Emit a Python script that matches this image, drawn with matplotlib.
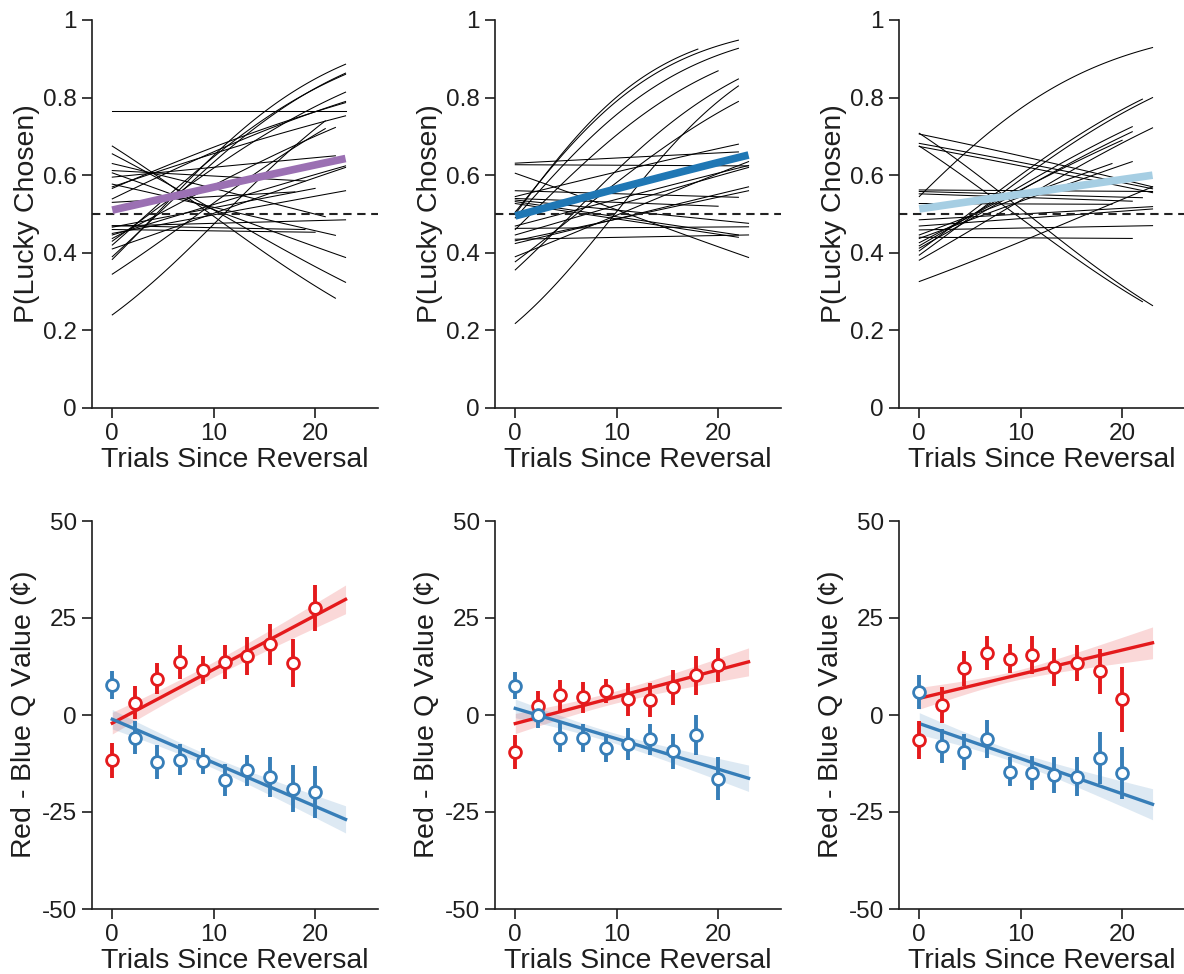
import numpy as np
import matplotlib
matplotlib.use("Agg")
import matplotlib.pyplot as plt

plt.rcParams['font.family'] = ['Liberation Sans', 'DejaVu Sans']
plt.rcParams['mathtext.fontset'] = 'custom'
plt.rcParams['mathtext.rm'] = 'Liberation Sans'
plt.rcParams['mathtext.it'] = 'Liberation Sans:italic'

# ---- per-subject logistic fits: (P at trial 0, P at last trial, last trial)
subj_start_1 = [0.765, 0.24, 0.345, 0.383, 0.39, 0.42, 0.43, 0.437, 0.446, 0.45, 0.466, 0.469, 0.46,
                0.539, 0.566, 0.57, 0.577, 0.595, 0.606, 0.612, 0.63, 0.655, 0.675, 0.53, 0.47, 0.41]
subj_end_1 = [0.765, 0.74, 0.72, 0.886, 0.863, 0.86, 0.814, 0.723, 0.624, 0.56, 0.566, 0.485, 0.453,
              0.79, 0.787, 0.753, 0.445, 0.65, 0.388, 0.585, 0.493, 0.324, 0.283, 0.557, 0.46, 0.62]
subj_last_1 = [23, 21, 21, 23, 23, 23, 23, 22, 23, 23, 20, 23, 20,
               23, 23, 23, 22, 22, 23, 19, 21, 23, 22, 18, 19, 23]

subj_start_2 = [0.50, 0.505, 0.49, 0.46, 0.356, 0.218, 0.377, 0.631, 0.627, 0.545, 0.39, 0.424,
                0.431, 0.56, 0.605, 0.54, 0.536, 0.532, 0.463, 0.435, 0.469, 0.527, 0.446]
subj_end_2 = [0.925, 0.948, 0.927, 0.869, 0.848, 0.83, 0.79, 0.66, 0.624, 0.68, 0.635, 0.57,
              0.56, 0.543, 0.388, 0.52, 0.476, 0.446, 0.467, 0.446, 0.625, 0.44, 0.62]
subj_last_2 = [18, 22, 22, 20, 22, 22, 22, 22, 23, 22, 23, 23,
               23, 22, 23, 20, 23, 22, 23, 23, 23, 22, 23]

subj_start_3 = [0.545, 0.405, 0.394, 0.418, 0.412, 0.381, 0.426, 0.437, 0.446, 0.708, 0.675, 0.706,
                0.682, 0.562, 0.558, 0.552, 0.527, 0.485, 0.469, 0.459, 0.44, 0.326, 0.674]
subj_end_3 = [0.929, 0.796, 0.80, 0.725, 0.712, 0.722, 0.69, 0.635, 0.63, 0.264, 0.274, 0.57,
              0.565, 0.558, 0.542, 0.533, 0.525, 0.519, 0.513, 0.47, 0.437, 0.57, 0.555]
subj_last_3 = [23, 22, 23, 21, 21, 23, 20, 21, 19, 23, 22, 23,
               23, 23, 22, 21, 19, 23, 23, 23, 21, 23, 23]

# group-level fit (start, end at trial 23)
group_start = [0.51, 0.495, 0.513]
group_end = [0.643, 0.652, 0.60]
group_colors = ['#9b70b3', '#1f77b4', '#a6cee3']

# ---- binned Q-value differences, trials since reversal
bin_x = [0, 2.2, 4.4, 6.7, 8.9, 11.1, 13.3, 15.6, 17.8, 20]

red_mean_1 = [-11.7, 3.2, 9.4, 13.7, 11.6, 13.7, 15.2, 18.2, 13.4, 27.6]
red_err_1 = [4.6, 4.3, 3.9, 4.4, 3.6, 4.4, 4.9, 5.2, 6.2, 6.0]
blue_mean_1 = [7.7, -5.8, -12.2, -11.5, -11.9, -16.8, -14.3, -16.0, -19.0, -19.9]
blue_err_1 = [3.7, 4.2, 4.4, 4.0, 3.4, 4.2, 4.1, 5.2, 6.0, 6.7]

red_mean_2 = [-9.5, 2.3, 5.1, 4.6, 6.2, 4.0, 3.8, 7.1, 10.2, 12.9]
red_err_2 = [4.3, 4.0, 4.0, 4.0, 3.1, 4.3, 4.4, 4.6, 5.1, 4.4]
blue_mean_2 = [7.6, 0.0, -5.8, -5.9, -8.5, -7.5, -6.2, -9.4, -5.2, -16.4]
blue_err_2 = [3.5, 3.4, 3.7, 3.7, 3.7, 4.1, 4.0, 4.4, 5.2, 5.6]

red_mean_3 = [-6.4, 2.6, 12.0, 16.0, 14.5, 15.5, 12.4, 13.4, 11.3, 4.1]
red_err_3 = [4.9, 4.6, 4.6, 4.4, 3.7, 4.9, 4.9, 4.6, 5.8, 8.4]
blue_mean_3 = [5.9, -8.0, -9.5, -6.3, -14.6, -14.9, -15.5, -15.9, -11.2, -14.9]
blue_err_3 = [4.3, 4.4, 4.7, 4.9, 3.7, 4.4, 4.7, 5.1, 6.7, 6.7]

# linear fits: value at trial 0 / trial 23, CI half-width at trial 0 / trial 23
red_fit = [(-2.1, 29.8, 2.8, 3.7), (-2.2, 13.7, 2.6, 3.6), (4.3, 18.6, 2.8, 4.1)]
blue_fit = [(-1.1, -26.9, 2.5, 3.5), (1.7, -16.3, 2.4, 3.4), (-2.2, -23.0, 2.8, 4.0)]

RED = '#e41a1c'
BLUE = '#377eb8'
TXT = '#1e1e1e'


def logit(p):
    p = np.asarray(p, dtype=float)
    return np.log(p / (1 - p))


def logistic_curve(p0, p1, x_last, n=120):
    b0 = logit(p0)
    b1 = (logit(p1) - b0) / x_last
    x = np.linspace(0, x_last, n)
    return x, 1 / (1 + np.exp(-(b0 + b1 * x)))


def style_axis(ax):
    for s in ['top', 'right']:
        ax.spines[s].set_visible(False)
    for s in ['left', 'bottom']:
        ax.spines[s].set_linewidth(1.2)
        ax.spines[s].set_color(TXT)
    ax.tick_params(length=7, width=1.2, labelsize=17.5, colors=TXT, pad=4)
    ax.set_xlim(-2, 26.2)
    ax.set_xticks([0, 10, 20])
    ax.set_xlabel('Trials Since Reversal', fontsize=20.5, color=TXT, labelpad=1)


fig = plt.figure(figsize=(11.84, 9.74), dpi=100)
W, H = 1184.0, 974.0
col_left = [92, 495, 899]
aw, ah = 286, 388

subjects = [(subj_start_1, subj_end_1, subj_last_1),
            (subj_start_2, subj_end_2, subj_last_2),
            (subj_start_3, subj_end_3, subj_last_3)]
binned = [(red_mean_1, red_err_1, blue_mean_1, blue_err_1),
          (red_mean_2, red_err_2, blue_mean_2, blue_err_2),
          (red_mean_3, red_err_3, blue_mean_3, blue_err_3)]

for i in range(3):
    # top row: choice probability curves
    ax = fig.add_axes([col_left[i] / W, 1 - 408 / H, aw / W, ah / H])
    starts, ends, lasts = subjects[i]
    for p0, p1, xl in zip(starts, ends, lasts):
        x, p = logistic_curve(p0, p1, xl)
        ax.plot(x, p, color='black', lw=0.75, zorder=2)
    ax.axhline(0.5, color='#222222', lw=1.5, ls=(0, (4, 2.7)), zorder=3)
    x, p = logistic_curve(group_start[i], group_end[i], 23)
    ax.plot(x, p, color=group_colors[i], lw=5.5, solid_capstyle='butt', zorder=4)
    ax.set_ylim(0, 1)
    ax.set_yticks([0, 0.2, 0.4, 0.6, 0.8, 1])
    ax.set_yticklabels(['0', '0.2', '0.4', '0.6', '0.8', '1'])
    style_axis(ax)
    ax.set_ylabel('P(Lucky Chosen)', fontsize=20.5, color=TXT, labelpad=2)

    # bottom row: Q-value differences
    ax = fig.add_axes([col_left[i] / W, 1 - 909 / H, aw / W, ah / H])
    rm, re, bm, be = binned[i]
    xs = np.linspace(0, 23, 100)
    for fit, col in [(red_fit[i], RED), (blue_fit[i], BLUE)]:
        y0, y1, h0, h1 = fit
        yl = y0 + (y1 - y0) * xs / 23
        xc = 9.0
        k = (h1 ** 2 - h0 ** 2) / ((23 - xc) ** 2 - xc ** 2)
        c2 = h0 ** 2 - k * xc ** 2
        hw = np.sqrt(c2 + k * (xs - xc) ** 2)
        ax.fill_between(xs, yl - hw, yl + hw, color=col, alpha=0.17, lw=0, zorder=1)
        ax.plot(xs, yl, color=col, lw=2.4, zorder=2)
    for mean, err, col in [(rm, re, RED), (bm, be, BLUE)]:
        ax.errorbar(bin_x, mean, yerr=err, fmt='none', ecolor=col, elinewidth=2.8, zorder=3)
        ax.plot(bin_x, mean, 'o', ms=8.5, mfc='white', mec=col, mew=2, zorder=4)
    ax.set_ylim(-50, 50)
    ax.set_yticks([-50, -25, 0, 25, 50])
    ax.set_yticklabels(['-50', '-25', '0', '25', '50'])
    style_axis(ax)
    ax.set_ylabel(r'Red - Blue Q Value ($\mathit{¢}$)', fontsize=20.5, color=TXT, labelpad=2)

fig.savefig('out.png', dpi=100)
